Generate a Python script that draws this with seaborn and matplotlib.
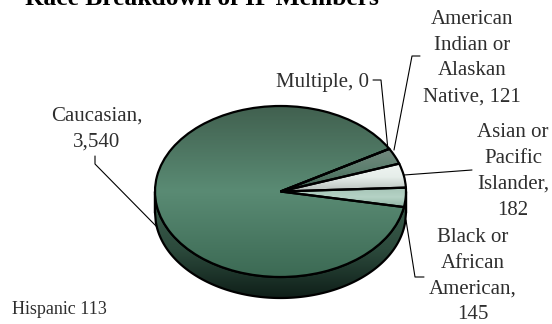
import numpy as np
import seaborn as sns
import matplotlib
matplotlib.use("Agg")
import matplotlib.pyplot as plt
from matplotlib.transforms import Affine2D

sns.set_theme(style="white")
plt.rcParams['font.family'] = ['Liberation Serif', 'DejaVu Sans']

# Slices, counter-clockwise from the lower right
categories = ["Black or African American", "Asian or Pacific Islander",
              "American Indian or Alaskan Native", "Multiple", "Caucasian"]
values = [145, 182, 121, 0, 3540]
footnote_label = "Hispanic 113"
title = "Race Breakdown of IP Members"

# (top, middle, bottom) of each slice's vertical shading
shades = [["#a5c4b6", "#b5d2c5", "#8fb3a3"],
          ["#f0f5f2", "#e6eeea", "#b9c2bd"],
          ["#75897f", "#5c7f6e", "#3b5e4d"],
          ["#5c7f6e", "#5c7f6e", "#5c7f6e"],
          ["#41604f", "#5a8b74", "#3c6a54"]]
wall_shade = ["#3c5e4d", "#2c4a3c", "#0f1f19"]

W, H = 552, 324
fig = plt.figure(figsize=(W / 100, H / 100), dpi=100)
px = Affine2D().scale(1 / W, -1 / H).translate(0, 1) + fig.transFigure

cx, cy, rx, ry, depth = 280.5, 191.5, 125.5, 85.5, 21
margin = 1.4
ax = fig.add_axes([(cx - rx * margin) / W, 1 - (cy + ry * margin) / H,
                   2 * rx * margin / W, 2 * ry * margin / H])
wedges, _ = ax.pie(values, startangle=-10.5, counterclock=True, radius=1,
                   wedgeprops=dict(edgecolor="black", linewidth=1.6, facecolor="none", zorder=5))
ax.set_aspect("auto")
ax.axis("off")

grad = np.linspace(1, 0, 128).reshape(-1, 1)

# side wall of the disc
d = depth / ry
xs = np.linspace(-1, 1, 300)
low = -np.sqrt(1 - xs ** 2)
wall = ax.fill_between(xs, low, low - d, facecolor="none", edgecolor="black",
                       linewidth=1.6, zorder=3)
wall_cmap = sns.blend_palette(wall_shade[::-1], as_cmap=True)
wall_im = ax.imshow(grad, extent=[-1, 1, -1 - d, -0.1], cmap=wall_cmap, vmin=0, vmax=1,
                    aspect="auto", zorder=2)
wall_im.set_clip_path(wall.get_paths()[0], ax.transData)
ax.plot([-1, -1], [0, -d], color="black", lw=1.6, zorder=3)
ax.plot([1, 1], [0, -d], color="black", lw=1.6, zorder=3)

# shaded slices
for w, shade in zip(wedges, shades):
    if w.theta2 - w.theta1 < 0.01:
        continue
    ext = w.get_path().get_extents(w.get_patch_transform())
    cmap = sns.blend_palette(shade[::-1], as_cmap=True)
    im = ax.imshow(grad, extent=[ext.x0, ext.x1, ext.y0, ext.y1], cmap=cmap,
                   vmin=0, vmax=1, aspect="auto", zorder=4)
    im.set_clip_path(w)
ax.set_xlim(-margin, margin)
ax.set_ylim(-margin, margin)

# texts and leader lines, placed in picture pixels
fs = 15
text_color = "#2e2e2e"
fig.text(25, 5, title, transform=px, fontsize=18.4, fontweight="bold", color="black",
         ha="left", va="baseline")
labels = [(97, 129, "Caucasian,\n3,540"),
          (322, 82, "Multiple, 0"),
          (472, 58, "American\nIndian or\nAlaskan\nNative, 121"),
          (513, 171.5, "Asian or\nPacific\nIslander,\n182"),
          (473, 276, "Black or\nAfrican\nAmerican,\n145")]
for x, y, s in labels:
    fig.text(x, y, s, transform=px, fontsize=fs, color=text_color, ha="center", va="center",
             linespacing=1.48)
fig.text(12, 310, footnote_label, transform=px, fontsize=13, color=text_color, ha="left", va="center")

leaders = [([95, 95, 157], [156, 164, 227]),
           ([373, 381, 388], [80, 80, 150]),
           ([420, 412, 394], [56, 56, 150]),
           ([404, 472], [175, 170]),
           ([406, 415, 424], [220, 277, 277])]
for lx, ly in leaders:
    fig.add_artist(plt.Line2D(lx, ly, transform=px, color="black", lw=0.8, zorder=6))

fig.savefig("out.png", dpi=100, facecolor="white")
